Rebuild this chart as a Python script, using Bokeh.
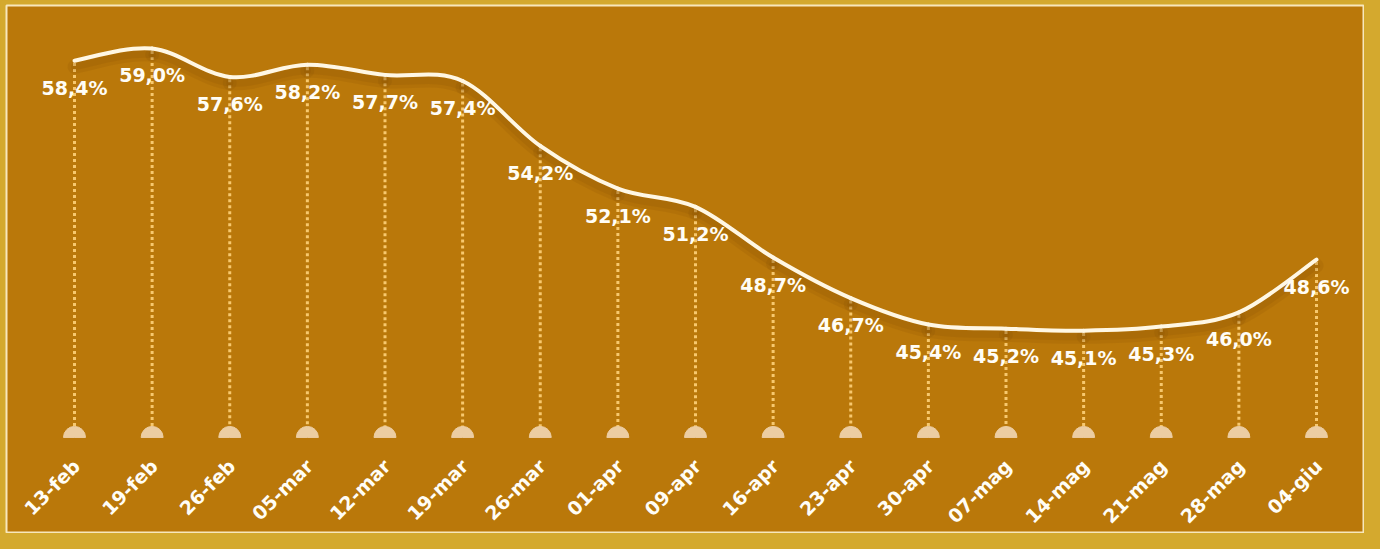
import numpy as np
from bokeh.plotting import figure
from bokeh.models import Range1d, ColumnDataSource, GlobalInlineStyleSheet
from bokeh.core.properties import value
from bokeh.embed import file_html
from bokeh.resources import INLINE

# ---- data -------------------------------------------------------------
categories = ["13-feb", "19-feb", "26-feb", "05-mar", "12-mar", "19-mar",
              "26-mar", "01-apr", "09-apr", "16-apr", "23-apr", "30-apr",
              "07-mag", "14-mag", "21-mag", "28-mag", "04-giu"]
values = [58.4, 59.0, 57.6, 58.2, 57.7, 57.4, 54.2, 52.1, 51.2, 48.7,
          46.7, 45.4, 45.2, 45.1, 45.3, 46.0, 48.6]
value_labels = [f"{v:.1f}%".replace(".", ",") for v in values]

# ---- layout / style constants ----------------------------------------
BG = "#BA780A"
FRAME = "#D4A92E"
LINE = "#FFF7E4"
DOT = "#F7C86E"
CAP = "#ECCDA2"
FONT = "DejaVu Sans"
BASE = 39.84          # baseline of the half-disc markers (value units)
LABEL_DROP = 1.33     # value labels sit this far below the point
XLABEL_Y = 38.6       # position of rotated category labels

n = len(values)
xs = np.arange(n, dtype=float)
vs = np.array(values, dtype=float)

# smooth curve through the points (Catmull-Rom -> cubic bezier)
x0, y0, x1, y1, cx0, cy0, cx1, cy1 = ([] for _ in range(8))
for i in range(n - 1):
    a, b = max(i - 1, 0), min(i + 2, n - 1)
    p0 = np.array([xs[a], vs[a]]); p1 = np.array([xs[i], vs[i]])
    p2 = np.array([xs[i + 1], vs[i + 1]]); p3 = np.array([xs[b], vs[b]])
    c1 = p1 + (p2 - p0) / 6.0
    c2 = p2 - (p3 - p1) / 6.0
    x0.append(p1[0]); y0.append(p1[1]); x1.append(p2[0]); y1.append(p2[1])
    cx0.append(c1[0]); cy0.append(c1[1]); cx1.append(c2[0]); cy1.append(c2[1])
curve = ColumnDataSource(dict(x0=x0, y0=y0, x1=x1, y1=y1,
                              cx0=cx0, cy0=cy0, cx1=cx1, cy1=cy1))
SH = 0.3
shadow = ColumnDataSource(dict(x0=x0, y0=[v - SH for v in y0], x1=x1,
                               y1=[v - SH for v in y1], cx0=cx0,
                               cy0=[v - SH for v in cy0], cx1=cx1,
                               cy1=[v - SH for v in cy1]))

pts = ColumnDataSource(dict(x=xs, v=vs, top=vs - 0.12,
                            lab_y=vs - LABEL_DROP, lab=value_labels,
                            base=[BASE] * n, xl_y=[XLABEL_Y] * n,
                            cat=categories))

p = figure(width=1364, height=533, output_backend="svg", toolbar_location=None,
           x_range=Range1d(-0.8760, 16.6184), y_range=Range1d(35.108, 61.118),
           min_border_left=6, min_border_top=5, min_border_right=0,
           min_border_bottom=0,
           background_fill_color=BG, border_fill_color=FRAME)
p.stylesheets = [GlobalInlineStyleSheet(css="body { background: #D4A92E; }")]
p.xaxis.visible = False
p.yaxis.visible = False
p.grid.visible = False
p.outline_line_color = "#F7E7BC"
p.outline_line_width = 2

# dotted drop lines
p.segment(x0="x", y0="top", x1="x", y1="base", source=pts,
          line_color=DOT, line_width=3, line_dash="3 3")
# half-disc markers
p.wedge(x="x", y="base", radius=11, radius_units="screen",
        start_angle=0, end_angle=np.pi, source=pts,
        fill_color=CAP, line_color=CAP, line_width=1)

# soft shadow + line
p.bezier(x0="x0", y0="y0", x1="x1", y1="y1", cx0="cx0", cy0="cy0",
         cx1="cx1", cy1="cy1", source=shadow, line_color="#6A3F00",
         line_alpha=0.10, line_width=14, line_cap="round")
p.bezier(x0="x0", y0="y0", x1="x1", y1="y1", cx0="cx0", cy0="cy0",
         cx1="cx1", cy1="cy1", source=shadow, line_color="#6A3F00",
         line_alpha=0.10, line_width=7, line_cap="round")
p.bezier(x0="x0", y0="y0", x1="x1", y1="y1", cx0="cx0", cy0="cy0",
         cx1="cx1", cy1="cy1", source=curve, line_color=LINE,
         line_width=4, line_cap="round")

# value labels
p.text(x="x", y="lab_y", text="lab", source=pts, text_font=value(FONT),
       text_font_style="bold", text_font_size="19px", text_color="#FFFDF6",
       text_align="center", text_baseline="middle")

# rotated category labels
p.text(x="x", y="xl_y", text="cat", source=pts, text_font=value(FONT),
       text_font_style="bold", text_font_size="19px", text_color="#FFFDF6",
       text_align="right", text_baseline="middle", angle=np.pi / 4,
       x_offset=2)

open("out.html", "w").write(file_html(p, INLINE))
